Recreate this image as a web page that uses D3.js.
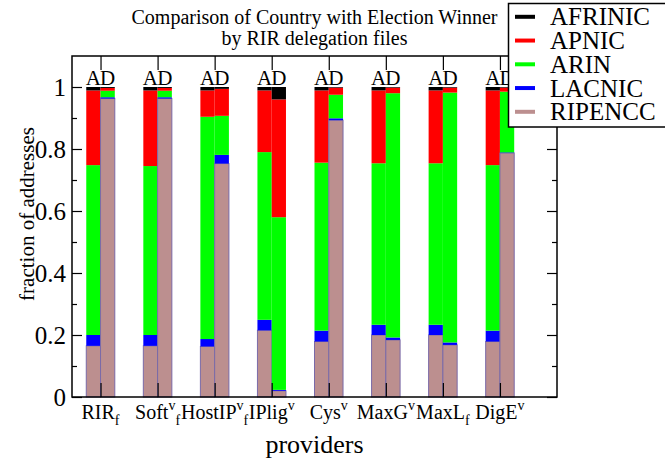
<!DOCTYPE html>
<html>
<head>
<meta charset="utf-8">
<script src="https://cdn.jsdelivr.net/npm/d3@7"></script>
<style>
  html, body { margin: 0; padding: 0; background: #fff; }
  svg text { font-family: "Liberation Serif", "Times New Roman", Times, Tinos, "DejaVu Serif", serif !important; }
</style>
</head>
<body>
<svg id="chart" width="665" height="462"></svg>
<script>
// ---- data ----
const providers   = ["RIR", "Soft", "HostIP", "IPlig", "Cys", "MaxG", "MaxL", "DigE"];
const providerSup = ["", "v", "v", "v", "v", "v", "", "v"];
const providerSub = ["f", "f", "f", "", "", "", "f", ""];
const registries  = ["AFRINIC", "APNIC", "ARIN", "LACNIC", "RIPENCC"];
const regColors   = ["#000000", "#ff0000", "#00ff00", "#0000ff", "#bc8f8f"];
const barKinds    = ["A", "D"];
const yTicks      = [0, 0.2, 0.4, 0.6, 0.8, 1];
const titleLines  = ["Comparison of Country with Election Winner", "by RIR delegation files"];

// "A" bars (fractions, bottom-up stacking order: RIPENCC, LACNIC, ARIN, APNIC, AFRINIC)
const ripenccA = [0.165, 0.165, 0.163, 0.215, 0.179, 0.200, 0.200, 0.179];
const lacnicA  = [0.035, 0.035, 0.024, 0.034, 0.035, 0.033, 0.033, 0.035];
const arinA    = [0.548, 0.545, 0.717, 0.541, 0.542, 0.521, 0.521, 0.534];
const apnicA   = [0.241, 0.244, 0.085, 0.199, 0.233, 0.235, 0.235, 0.241];
const afrinicA = [0.011, 0.011, 0.011, 0.011, 0.011, 0.011, 0.011, 0.011];
// "D" bars
const ripenccD = [0.963, 0.963, 0.753, 0.020, 0.893, 0.184, 0.168, 0.787];
const lacnicD  = [0.004, 0.004, 0.028, 0.003, 0.006, 0.008, 0.008, 0.002];
const arinD    = [0.021, 0.021, 0.126, 0.557, 0.076, 0.788, 0.806, 0.196];
const apnicD   = [0.009, 0.009, 0.087, 0.380, 0.023, 0.018, 0.016, 0.013];
const afrinicD = [0.003, 0.003, 0.006, 0.040, 0.002, 0.002, 0.002, 0.002];

// ---- layout ----
const svg = d3.select("#chart");
const L = 72, R = 557, T = 56, B = 397;
const x = d3.scaleLinear().domain([0.5, 9]).range([L, R]);
const y = d3.scaleLinear().domain([0, 1.1]).range([B, T]);
const barW = 0.25;

// build stacked table
const table = providers.map((p, i) => ({
  i: i + 1,
  A: { RIPENCC: ripenccA[i], LACNIC: lacnicA[i], ARIN: arinA[i], APNIC: apnicA[i], AFRINIC: afrinicA[i] },
  D: { RIPENCC: ripenccD[i], LACNIC: lacnicD[i], ARIN: arinD[i], APNIC: apnicD[i], AFRINIC: afrinicD[i] }
}));
const stackOrder = ["RIPENCC", "LACNIC", "ARIN", "APNIC", "AFRINIC"];
const colorOf = d3.scaleOrdinal().domain(registries).range(regColors);

const segs = [];
table.forEach(row => {
  barKinds.forEach((k, ki) => {
    let acc = 0;
    stackOrder.forEach(reg => {
      const v = row[k][reg];
      segs.push({ pos: row.i, k, ki, reg, y0: acc, y1: acc + v });
      acc += v;
    });
  });
});

const gBars = svg.append("g");
gBars.selectAll("rect.seg").data(segs).join("rect")
  .attr("class", "seg")
  .attr("x", d => x(d.pos + (d.ki === 0 ? -barW : 0)))
  .attr("width", d => x(d.pos + barW) - x(d.pos))
  .attr("y", d => y(d.y1))
  .attr("height", d => y(d.y0) - y(d.y1))
  .attr("fill", d => colorOf(d.reg))
  .attr("stroke", d => d.reg === "RIPENCC" ? "#7a6aa8" : "none")
  .attr("stroke-width", 1);

// A / D labels
providers.forEach((p, i) => {
  barKinds.forEach((k, ki) => {
    svg.append("text")
      .attr("x", x(i + 1 + (ki === 0 ? -barW / 2 : barW / 2)))
      .attr("y", 85)
      .attr("text-anchor", "middle")
      .attr("font-size", 21)
      .text(k);
  });
});

// frame
svg.append("rect").attr("x", L).attr("y", T).attr("width", R - L).attr("height", B - T)
  .attr("fill", "none").attr("stroke", "#000").attr("stroke-width", 1.5);

// y axes (inward ticks)
const minorY = d3.range(0, 11).map(d => d / 10);
const yAxisL = d3.axisLeft(y).tickValues(yTicks).tickSize(-10).tickPadding(6)
  .tickFormat(d => d3.format("~g")(d));
const gyl = svg.append("g").attr("transform", `translate(${L},0)`).call(yAxisL);
gyl.select(".domain").remove();
gyl.selectAll("text").attr("font-size", 25).attr("fill", "#000");
gyl.selectAll("line").attr("stroke", "#000");
const gylm = svg.append("g").attr("transform", `translate(${L},0)`)
  .call(d3.axisLeft(y).tickValues(minorY.filter((d, i) => i % 2 === 1)).tickSize(-5).tickFormat(""));
gylm.select(".domain").remove();

const gyr = svg.append("g").attr("transform", `translate(${R},0)`)
  .call(d3.axisRight(y).tickValues(yTicks).tickSize(-10).tickFormat(""));
gyr.select(".domain").remove();
const gyrm = svg.append("g").attr("transform", `translate(${R},0)`)
  .call(d3.axisRight(y).tickValues(minorY.filter((d, i) => i % 2 === 1)).tickSize(-5).tickFormat(""));
gyrm.select(".domain").remove();

// x axes (inward ticks)
const xPos = providers.map((p, i) => i + 1);
const gxb = svg.append("g").attr("transform", `translate(0,${B})`)
  .call(d3.axisBottom(x).tickValues(xPos).tickSize(-14).tickFormat(""));
gxb.select(".domain").remove();
const gxt = svg.append("g").attr("transform", `translate(0,${T})`)
  .call(d3.axisTop(x).tickValues(xPos).tickSize(-14).tickFormat(""));
gxt.select(".domain").remove();
svg.selectAll(".tick line").attr("stroke", "#000").attr("stroke-width", 1.2);

// x tick labels with super/subscripts
providers.forEach((p, i) => {
  const t = svg.append("text")
    .attr("x", x(i + 1))
    .attr("y", 419)
    .attr("text-anchor", "middle")
    .attr("font-size", 20);
  t.append("tspan").text(p);
  if (providerSup[i]) {
    t.append("tspan").attr("font-size", 14).attr("dy", -9).text(providerSup[i]);
    if (providerSub[i]) t.append("tspan").attr("font-size", 14).attr("dy", 15).text(providerSub[i]);
  } else if (providerSub[i]) {
    t.append("tspan").attr("font-size", 14).attr("dy", 6).text(providerSub[i]);
  }
});

// axis titles
svg.append("text").attr("x", x(4.75)).attr("y", 453).attr("text-anchor", "middle")
  .attr("font-size", 26).text("providers");
svg.append("text").attr("transform", "translate(34,214) rotate(-90)")
  .attr("text-anchor", "middle").attr("font-size", 21).text("fraction of addresses");

// title
titleLines.forEach((s, i) => {
  svg.append("text").attr("x", (L + R) / 2).attr("y", 24 + i * 21)
    .attr("text-anchor", "middle").attr("font-size", 20).text(s);
});

// legend
const lg = svg.append("g");
lg.append("rect").attr("x", 508.5).attr("y", 3.5).attr("width", 160).attr("height", 123.5)
  .attr("fill", "#fff").attr("stroke", "#000").attr("stroke-width", 1.5);
registries.forEach((r, i) => {
  const cy = 16.8 + i * 23.75;
  lg.append("line").attr("x1", 515).attr("x2", 535).attr("y1", cy).attr("y2", cy)
    .attr("stroke", regColors[i]).attr("stroke-width", 4);
  lg.append("text").attr("x", 550).attr("y", cy + 8.5).attr("font-size", 25).text(r);
});
</script>
</body>
</html>
